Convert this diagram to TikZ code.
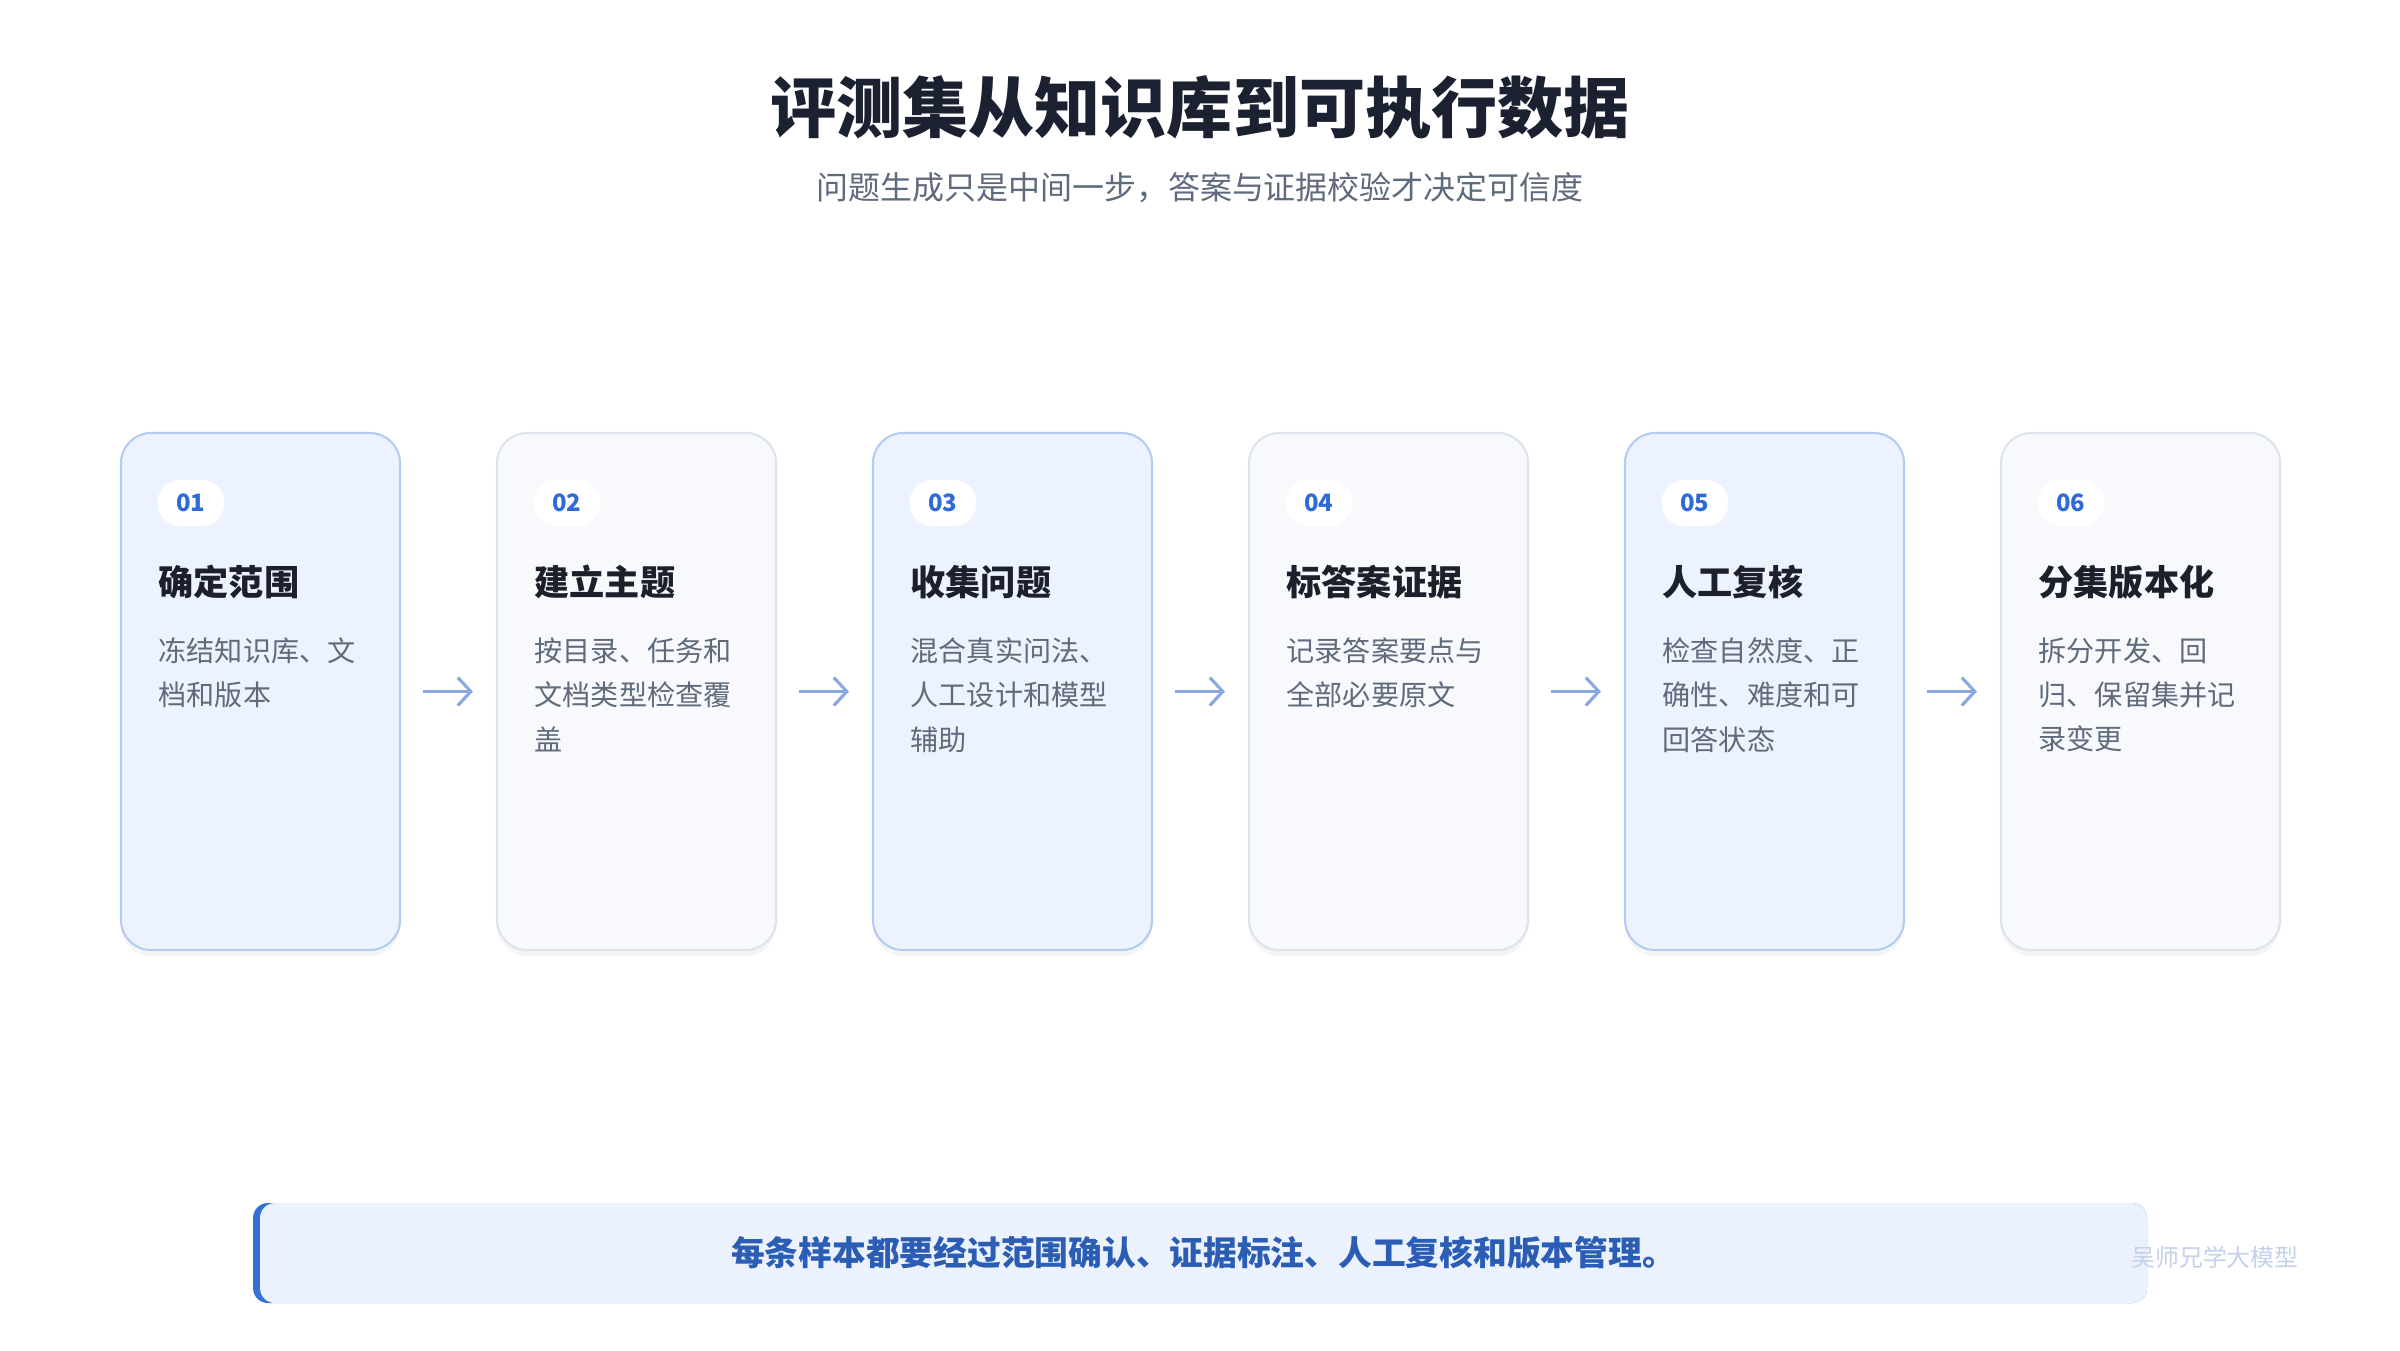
\documentclass[tikz,border=0pt]{standalone}
\usepackage{fontspec}
\setmainfont{Noto Sans CJK SC}
\usepackage{xcolor}
\usetikzlibrary{arrows.meta,shadows,calc}

\definecolor{titlecol}{HTML}{1B2130}
\definecolor{subcol}{HTML}{5E6A7E}
\definecolor{bluefill}{HTML}{EDF3FE}
\definecolor{blueline}{HTML}{B5CCF2}
\definecolor{grayfill}{HTML}{F7F9FC}
\definecolor{grayline}{HTML}{DDE4EE}
\definecolor{numcol}{HTML}{2F6BD6}
\definecolor{headcol}{HTML}{1B202B}
\definecolor{desccol}{HTML}{5F6A7B}
\definecolor{arrowcol}{HTML}{8AA9E2}
\definecolor{barfill}{HTML}{EBF2FE}
\definecolor{accentcol}{HTML}{3370D8}
\definecolor{notecol}{HTML}{2A5DB3}
\definecolor{markcol}{HTML}{C3D1EA}

\tikzset{
  card/.style={rounded corners=0.3cm, minimum width=2.79cm, minimum height=5.17cm, line width=0.6pt,
    drop shadow={shadow xshift=0pt, shadow yshift=-0.06cm, opacity=0.04, fill=black}},
  cardblue/.style={card, fill=bluefill, draw=blueline},
  cardgray/.style={card, fill=grayfill, draw=grayline},
  badge/.style={rounded corners=0.23cm, fill=white, minimum width=0.67cm, minimum height=0.46cm,
    inner sep=0pt, text=numcol, font=\fontsize{6.8}{7}\selectfont\bfseries},
  cardhead/.style={anchor=west, inner sep=0pt, text=headcol, font=\fontsize{10}{12}\selectfont\bfseries},
  carddesc/.style={anchor=north west, inner sep=0pt, align=left, text=desccol, font=\fontsize{8}{12.6}\selectfont},
  flow/.style={-{Straight Barb[length=1.3mm,width=2.8mm]}, line width=0.9pt, draw=arrowcol,
    shorten <=0.22cm, shorten >=0.23cm},
  notebar/.style={rounded corners=0.15cm, fill=barfill, minimum width=18.87cm, minimum height=1cm,
    text=notecol, font=\fontsize{9.6}{12}\selectfont\bfseries},
}

\begin{document}
\begin{tikzpicture}

\fill[white] (0,0) rectangle (24,-13.5);
\useasboundingbox (0,0) rectangle (24,-13.5);

% Title
\node[text=titlecol, font=\fontsize{18.8}{22}\selectfont\bfseries] (title) at (12,-1.07) {评测集从知识库到可执行数据};
\node[text=subcol, font=\fontsize{9.1}{11}\selectfont] (subtitle) at (12,-1.88) {问题生成只是中间一步，答案与证据校验才决定可信度};

% Cards
\foreach \i/\sty/\head/\desc in {
    1/cardblue/确定范围/{冻结知识库、文\\档和版本},
    2/cardgray/建立主题/{按目录、任务和\\文档类型检查覆\\盖},
    3/cardblue/收集问题/{混合真实问法、\\人工设计和模型\\辅助},
    4/cardgray/标答案证据/{记录答案要点与\\全部必要原文},
    5/cardblue/人工复核/{检查自然度、正\\确性、难度和可\\回答状态},
    6/cardgray/分集版本化/{拆分开发、回\\归、保留集并记\\录变更}}
{
  \node[\sty] (card\i) at ({2.605+3.76*(\i-1)},-6.915) {};
  \node[badge] (num\i) at ($(card\i.north west)+(0.71,-0.71)$) {0\i};
  \node[cardhead] (head\i) at ($(card\i.north west)+(0.38,-1.50)$) {\head};
  \node[carddesc] (text\i) at ($(card\i.north west)+(0.38,-2.05)$) {\desc};
}

% Arrows between cards
\foreach \i [evaluate=\i as \j using int(\i+1)] in {1,...,5}
  \draw[flow] (card\i) -- (card\j);

% Bottom note
\fill[accentcol, rounded corners=0.15cm] (2.53,-12.03) rectangle (21.47,-13.03);
\node[notebar] (note) at (12.035,-12.53) {每条样本都要经过范围确认、证据标注、人工复核和版本管理。};

\node[text=markcol, font=\fontsize{6.8}{8}\selectfont] (mark) at (22.15,-12.57) {吴师兄学大模型};
\end{tikzpicture}
\end{document}
